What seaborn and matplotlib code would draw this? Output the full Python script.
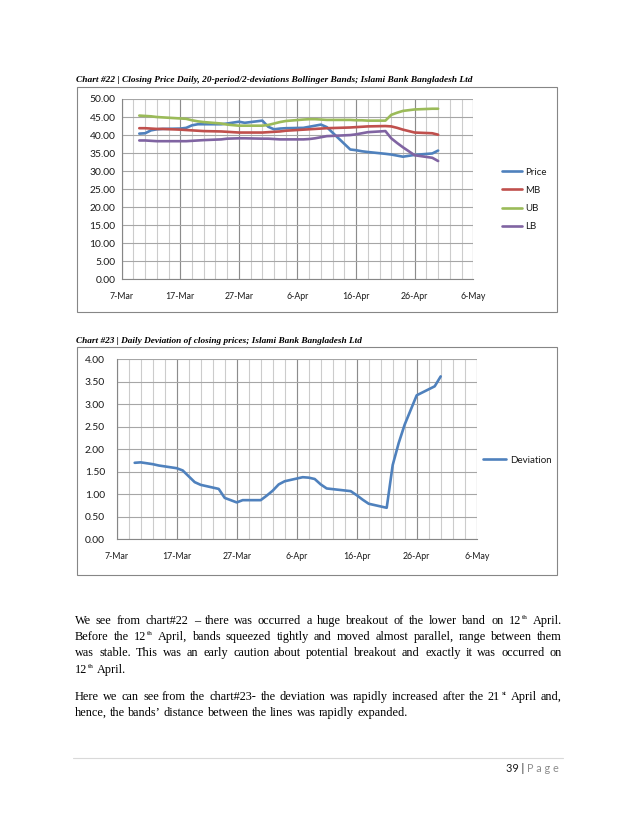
import numpy as np
import pandas as pd
import matplotlib
matplotlib.use("Agg")
import matplotlib.pyplot as plt
import seaborn as sns
from matplotlib.patches import Rectangle

# ---------------- data ----------------
dates = ["2013-03-10", "2013-03-11", "2013-03-12", "2013-03-13", "2013-03-14",
         "2013-03-17", "2013-03-18", "2013-03-19", "2013-03-20", "2013-03-21",
         "2013-03-24", "2013-03-25", "2013-03-27", "2013-03-28", "2013-03-31",
         "2013-04-01", "2013-04-02", "2013-04-03", "2013-04-04", "2013-04-07",
         "2013-04-08", "2013-04-09", "2013-04-10", "2013-04-11", "2013-04-15",
         "2013-04-16", "2013-04-17", "2013-04-18", "2013-04-21", "2013-04-22",
         "2013-04-23", "2013-04-24", "2013-04-26", "2013-04-29", "2013-04-30"]
price = [40.4, 40.5, 41.3, 41.6, 41.7, 41.8, 42.0, 42.7, 43.0, 43.0,
         43.0, 43.2, 43.7, 43.4, 44.0, 42.3, 41.6, 41.8, 41.9, 42.0,
         42.3, 42.6, 42.9, 42.2, 36.0, 35.8, 35.5, 35.3, 34.8, 34.6,
         34.3, 34.0, 34.5, 34.9, 35.7]
mb = [41.9, 41.9, 41.8, 41.7, 41.7, 41.5, 41.4, 41.3, 41.2, 41.1,
      41.0, 40.9, 40.7, 40.7, 40.7, 40.8, 40.9, 41.0, 41.2, 41.5,
      41.6, 41.7, 41.8, 41.9, 42.1, 42.2, 42.3, 42.4, 42.5, 42.4,
      42.0, 41.5, 40.7, 40.5, 40.1]
ub = [45.4, 45.3, 45.2, 45.0, 44.9, 44.6, 44.5, 44.1, 43.8, 43.6,
      43.2, 42.9, 42.6, 42.6, 42.6, 42.8, 43.2, 43.6, 43.9, 44.3,
      44.4, 44.4, 44.3, 44.2, 44.2, 44.1, 44.1, 44.0, 44.0, 45.6,
      46.2, 46.7, 47.1, 47.3, 47.3]
lb = [38.5, 38.5, 38.4, 38.3, 38.3, 38.3, 38.3, 38.4, 38.5, 38.6,
      38.8, 39.0, 39.1, 39.1, 39.0, 39.0, 38.9, 38.8, 38.8, 38.8,
      38.9, 39.1, 39.4, 39.7, 40.0, 40.2, 40.5, 40.8, 41.1, 39.1,
      37.8, 36.6, 34.4, 33.7, 32.8]
deviation = [1.70, 1.71, 1.69, 1.67, 1.64, 1.58, 1.53, 1.40, 1.27, 1.21,
             1.12, 0.92, 0.82, 0.87, 0.87, 0.97, 1.08, 1.22, 1.29, 1.38,
             1.37, 1.34, 1.22, 1.13, 1.07, 0.98, 0.88, 0.79, 0.70, 1.65,
             2.14, 2.55, 3.20, 3.40, 3.62]

series_names = ["Price", "MB", "UB", "LB"]
series_colors = ["#4F81BD", "#C0504D", "#9BBB59", "#8064A2"]
dev_name = "Deviation"

x_ticks = ["2013-03-07", "2013-03-17", "2013-03-27", "2013-04-06",
           "2013-04-16", "2013-04-26", "2013-05-06"]
x_tick_labels = ["7-Mar", "17-Mar", "27-Mar", "6-Apr", "16-Apr", "26-Apr", "6-May"]
y1_ticks = [0, 5, 10, 15, 20, 25, 30, 35, 40, 45, 50]
y1_tick_labels = ["0.00", "5.00", "10.00", "15.00", "20.00", "25.00",
                  "30.00", "35.00", "40.00", "45.00", "50.00"]
y2_ticks = [0, 0.5, 1.0, 1.5, 2.0, 2.5, 3.0, 3.5, 4.0]
y2_tick_labels = ["0.00", "0.50", "1.00", "1.50", "2.00", "2.50", "3.00", "3.50", "4.00"]

caption1 = "Chart #22 | Closing Price Daily, 20-period/2-deviations Bollinger Bands; Islami Bank Bangladesh Ltd"
caption2 = "Chart #23 | Daily Deviation of closing prices; Islami Bank Bangladesh Ltd"

para_lines = [
    ("We see from chart#22 \u2013 there was occurred a huge breakout of the lower band on 12^th April.", True),
    ("Before the 12^th April, bands squeezed tightly and moved almost parallel, range between them", True),
    ("was stable. This was an early caution about potential breakout and exactly it was occurred on", True),
    ("12^th April.", False),
    ("Here we can see from the chart#23- the deviation was rapidly increased after the 21^st April and,", True),
    ("hence, the bands\u2019 distance between the lines was rapidly expanded.", False),
]
para_baselines = [623.5, 640.0, 656.5, 673.0, 700.0, 716.5]
footer_num = "39 |"
footer_word = "P a g e"

# ---------------- figure ----------------
sns.set_style("white")
plt.rcParams["font.family"] = ["Lato", "DejaVu Sans"]
W, H = 638, 826
fig = plt.figure(figsize=(W / 100, H / 100), dpi=100)
fig.patch.set_facecolor("white")
renderer = fig.canvas.get_renderer()


def fx(x):
    return x / W


def fy(y):
    return 1 - y / H


def twidth(s, size, **kw):
    t = fig.text(0, 0, s, fontsize=size, **kw)
    w = t.get_window_extent(renderer).width
    t.remove()
    return w


SERIF = ["Liberation Serif", "DejaVu Serif"]
XTICK_FS = 6.3
YTICK_FS = 7.4
LEG_FS = 7.0
GRID_H = "#A6A6A6"
GRID_MIN = "#CCCCCC"
GRID_MAJ = "#8C8C8C"
AXIS_C = "#868686"
TXT_C = "#1a1a1a"

xt = pd.to_datetime(x_ticks)
minor_ticks = pd.date_range(x_ticks[0], x_ticks[-1], freq="2D")


def style_axis(ax, yticks, ylabels, ylim, ypad):
    ax.set_xlim(xt[0], xt[-1])
    ax.set_ylim(*ylim)
    ax.set_xticks(xt)
    ax.set_xticklabels(x_tick_labels)
    ax.set_xticks(minor_ticks, minor=True)
    ax.set_yticks(yticks)
    ax.set_yticklabels(ylabels)
    ax.set_xlabel("")
    ax.set_ylabel("")
    ax.grid(False)
    for d in minor_ticks:
        ax.axvline(d, color=GRID_MIN, lw=0.8, zorder=0.5)
    for d in xt:
        ax.axvline(d, color=GRID_MAJ, lw=0.8, zorder=0.6)
    for v in yticks:
        ax.axhline(v, color=GRID_H, lw=0.8, zorder=0.6)
    for s in ["top", "right"]:
        ax.spines[s].set_visible(False)
    for s in ["left", "bottom"]:
        ax.spines[s].set_color(AXIS_C)
        ax.spines[s].set_linewidth(0.8)
        ax.spines[s].set_zorder(3)
    ax.tick_params(axis="x", which="major", direction="out", length=3, width=0.8,
                   color=AXIS_C, pad=6.5, labelsize=XTICK_FS, labelcolor=TXT_C)
    ax.tick_params(axis="x", which="minor", length=0)
    ax.tick_params(axis="y", which="major", direction="out", length=2.5, width=0.8,
                   color=AXIS_C, pad=ypad, labelsize=YTICK_FS, labelcolor=TXT_C)
    ax.set_facecolor("white")


# ---- chart 1 ----
ax1 = fig.add_axes([fx(121.7), fy(279.3), (473.3 - 121.7) / W, (279.3 - 99) / H])
df1 = pd.DataFrame({"date": pd.to_datetime(dates), "Price": price, "MB": mb, "UB": ub, "LB": lb})
df1l = df1.melt(id_vars="date", var_name="series", value_name="value")
sns.lineplot(data=df1l, x="date", y="value", hue="series", hue_order=series_names,
             palette=series_colors, lw=1.9, ax=ax1, zorder=2)
style_axis(ax1, y1_ticks, y1_tick_labels, (0, 50), 2.0)
h, l = ax1.get_legend_handles_labels()
ax1.get_legend().remove()
fig.legend(h, l, loc="center left", bbox_to_anchor=(fx(502), fy(199.5)),
           frameon=False, fontsize=LEG_FS, handlelength=2.05, handletextpad=0.3,
           labelspacing=0.95, borderpad=0, borderaxespad=0, labelcolor=TXT_C)

# ---- chart 2 ----
ax2 = fig.add_axes([fx(116.7), fy(539.3), 360 / W, 180 / H])
df2 = pd.DataFrame({"date": pd.to_datetime(dates), "series": dev_name, "value": deviation})
sns.lineplot(data=df2, x="date", y="value", hue="series", palette=[series_colors[0]],
             lw=1.9, ax=ax2, zorder=2)
style_axis(ax2, y2_ticks, y2_tick_labels, (0, 4), 6.0)
h2, l2 = ax2.get_legend_handles_labels()
ax2.get_legend().remove()
fig.legend(h2, l2, loc="center left", bbox_to_anchor=(fx(483), fy(460)),
           frameon=False, fontsize=LEG_FS, handlelength=2.4, handletextpad=0.35,
           borderpad=0, borderaxespad=0, labelcolor=TXT_C)

# chart boxes
for (x0, y0, x1, y1) in [(77, 87, 557, 312), (77, 347, 557, 575)]:
    fig.patches.append(Rectangle((fx(x0), fy(y1)), (x1 - x0) / W, (y1 - y0) / H,
                                 transform=fig.transFigure, fill=False,
                                 ec=AXIS_C, lw=0.8, zorder=0))

# captions (fit to measured widths)
cap_kw = dict(family=SERIF, fontweight="bold", fontstyle="italic")
for cap, yc, target in [(caption1, 80.5, 394), (caption2, 341, 287)]:
    fs = 10 * target / twidth(cap, 10, **cap_kw)
    fig.text(fx(76), fy(yc), cap, fontsize=fs, va="center", ha="left", color="black", **cap_kw)

# ---------------- body paragraph, word by word, justified ----------------
body_kw = dict(family=SERIF)
BODY_FS = 10 * 328 / twidth(para_lines[5][0], 10, **body_kw)
SUP_FS = BODY_FS * 0.6
X0, X1 = 75, 562
space_w = twidth("a a", BODY_FS, **body_kw) - twidth("aa", BODY_FS, **body_kw)


def token_parts(tok):
    if "^" in tok:
        base, sup = tok.split("^", 1)
        return base, sup
    return tok, ""


def token_width(tok):
    base, sup = token_parts(tok)
    w = twidth(base, BODY_FS, **body_kw)
    if sup:
        w += twidth(sup, SUP_FS, **body_kw) + 1.2
    return w


for (line, justify), base_y in zip(para_lines, para_baselines):
    toks = line.split(" ")
    widths = [token_width(t) for t in toks]
    if justify and len(toks) > 1:
        gap = (X1 - X0 - sum(widths)) / (len(toks) - 1)
    else:
        gap = space_w
    x = X0
    by = round(base_y)
    for tok, w in zip(toks, widths):
        base, sup = token_parts(tok)
        fig.text(fx(round(x)), fy(by), base, fontsize=BODY_FS, va="baseline", ha="left",
                 color="black", **body_kw)
        if sup:
            wb = twidth(base, BODY_FS, **body_kw)
            fig.text(fx(x + wb + 0.8), fy(by - BODY_FS * 1.389 * 0.38), sup,
                     fontsize=SUP_FS, va="baseline", ha="left", color="black", **body_kw)
        x += w + gap

# footer
fig.add_artist(plt.Line2D([fx(73), fx(563)], [fy(758.3), fy(758.3)],
                          transform=fig.transFigure, color="#D9D9D9", lw=0.8))
foot_total = footer_num + " " + footer_word
ffs = 10 * 52 / twidth(foot_total, 10, family=["Lato"])
fig.text(fx(559), fy(768.3), footer_word, fontsize=ffs, ha="right", va="center",
         color="#8C8C8C", family=["Lato"])
wword = twidth(footer_word + " x", ffs, family=["Lato"]) - twidth("x", ffs, family=["Lato"])
fig.text(fx(559 - wword), fy(768.3), footer_num, fontsize=ffs, ha="right", va="center",
         color="#1a1a1a", family=["Lato"])

fig.savefig("out.png", dpi=100, facecolor="white")
